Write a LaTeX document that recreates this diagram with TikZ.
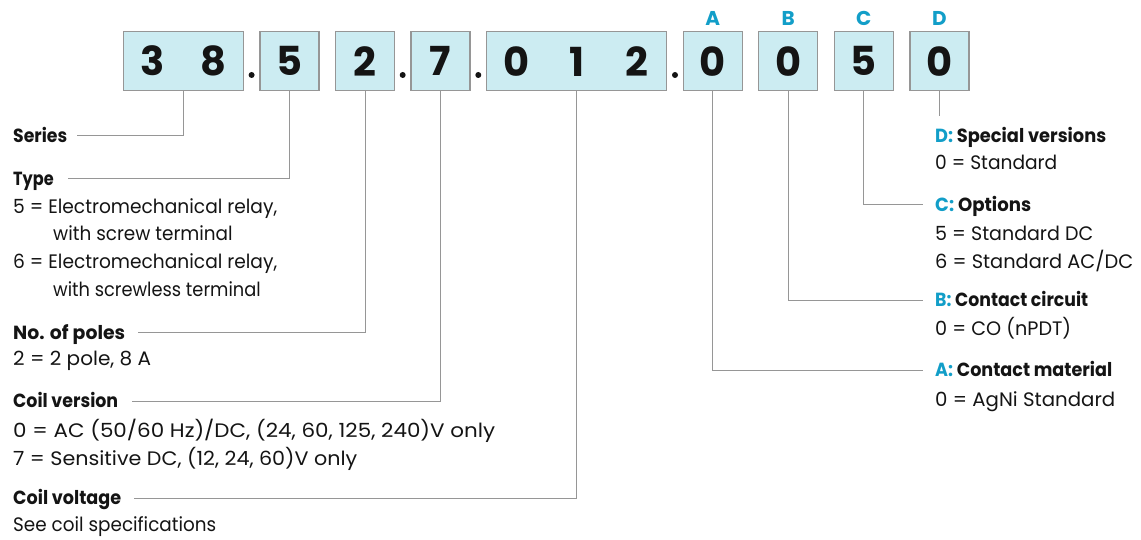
\documentclass[tikz,border=0pt]{standalone}
\usepackage{fontspec}
\usepackage{graphicx}
\setmainfont{Poppins}
\definecolor{boxfill}{RGB}{204,236,242}
\definecolor{boxline}{RGB}{150,150,150}
\definecolor{connc}{RGB}{150,150,150}
\definecolor{letter}{RGB}{18,158,200}
\definecolor{ink}{RGB}{20,20,20}
\newcommand{\fw}[2]{\resizebox{#1pt}{\height}{#2}}
\begin{document}
\begin{tikzpicture}[x=1pt,y=-1pt,
 codebox/.style={draw=boxline,fill=boxfill,line width=1.2pt,minimum height=59pt,inner sep=0pt,font=\fontsize{40}{40}\selectfont\bfseries,text=ink},
 onebox/.style={codebox,minimum width=59pt},
 sepdot/.style={circle,fill=ink,inner sep=0pt,minimum size=6pt},
 letterlab/.style={anchor=base,inner sep=0pt,font=\fontsize{20}{20}\selectfont\bfseries,text=letter},
 head/.style={anchor=base west,inner sep=0pt,text height=13pt,text depth=0pt,font=\fontsize{19}{19}\selectfont\bfseries,text=ink},
 body/.style={anchor=base west,inner sep=0pt,font=\fontsize{19.5}{19.5}\selectfont,text=ink},
 conn/.style={draw=connc,line width=1pt}
]
\useasboundingbox (0,0) rectangle (1141,540);

% code boxes
\node[codebox,minimum width=120pt] (b38) at (183.3,61.2) {\makebox[61pt]{\makebox[0pt]{3}\hfill\makebox[0pt]{8}}};
\node[onebox] (b5) at (289.5,61.2) {5};
\node[onebox] (b2) at (365,61.2) {2};
\node[onebox] (b7) at (440.5,61.2) {7};
\node[codebox,minimum width=180pt] (b012) at (576.7,61.2) {\makebox[120pt]{\makebox[0pt]{0}\hfill\makebox[0pt]{1}\hfill\makebox[0pt]{2}}};
\node[onebox] (bA) at (712.8,61.2) {0};
\node[onebox] (bB) at (788.3,61.2) {0};
\node[onebox] (bC) at (863.8,61.2) {5};
\node[onebox] (bD) at (939.5,61.2) {0};

% separating dots
\node[sepdot] (dot1) at (251.6,75) {};
\node[sepdot] (dot2) at (402.7,75) {};
\node[sepdot] (dot3) at (478.3,75) {};
\node[sepdot] (dot4) at (675,75) {};

% letters above
\node[letterlab] (lA) at (712.8,26) {A};
\node[letterlab] (lB) at (788.3,26) {B};
\node[letterlab] (lC) at (863.8,26) {C};
\node[letterlab] (lD) at (939.5,26) {D};

% left labels
\node[head] (series) at (13,142.5) {\fw{54}{Series}};
\node[head] (type) at (13,185.5) {\fw{40.5}{Type}};
\node[body] (t1) at (13,213.5) {\fw{264}{5 = Electromechanical relay,}};
\node[body] (t2) at (53,241) {\fw{179.5}{with screw terminal}};
\node[body] (t3) at (13,268.5) {\fw{264}{6 = Electromechanical relay,}};
\node[body] (t4) at (53,296.5) {\fw{207.5}{with screwless terminal}};
\node[head] (poles) at (13,339) {\fw{112}{No. of poles}};
\node[body] (p1) at (13,365.5) {\fw{138}{2 = 2 pole, 8 A}};
\node[head] (cver) at (13,407.5) {\fw{105}{Coil version}};
\node[body] (c1) at (13,437) {\fw{482}{0 = AC (50/60 Hz)/DC, (24, 60, 125, 240)V only}};
\node[body] (c2) at (13,465) {\fw{344}{7 = Sensitive DC, (12, 24, 60)V only}};
\node[head] (cvolt) at (13,504.5) {\fw{108}{Coil voltage}};
\node[body] (v1) at (13,531.5) {\fw{203}{See coil specifications}};

% right labels
\node[head] (hD) at (935,142.5) {\fw{171}{{\color{letter}D:} Special versions}};
\node[body] (d1) at (935,170) {\fw{122}{0 = Standard}};
\node[head] (hC) at (935,211.5) {\fw{96}{{\color{letter}C:} Options}};
\node[body] (cc1) at (935,241) {\fw{158}{5 = Standard DC}};
\node[body] (cc2) at (935,269) {\fw{198}{6 = Standard AC/DC}};
\node[head] (hB) at (935,307) {\fw{153}{{\color{letter}B:} Contact circuit}};
\node[body] (bb1) at (935,335) {\fw{136}{0 = CO (nPDT)}};
\node[head] (hA) at (935,376.5) {\fw{177}{{\color{letter}A:} Contact material}};
\node[body] (aa1) at (935,406) {\fw{180}{0 = AgNi Standard}};

% connectors
\coordinate (dend) at (939.5,116);
\draw[conn] (b38.south) |- ([xshift=10pt]series.east);
\draw[conn] (b5.south) |- ([xshift=14pt]type.east);
\draw[conn] (b2.south) |- ([xshift=13pt]poles.east);
\draw[conn] (b7.south) |- ([xshift=13.5pt]cver.east);
\draw[conn] (b012.south) |- ([xshift=12.5pt]cvolt.east);
\draw[conn] (bA.south) |- ([xshift=-12pt]hA.west);
\draw[conn] (bB.south) |- ([xshift=-12pt]hB.west);
\draw[conn] (bC.south) |- ([xshift=-12pt]hC.west);
\draw[conn] (bD.south) -- (dend);
\end{tikzpicture}
\end{document}
